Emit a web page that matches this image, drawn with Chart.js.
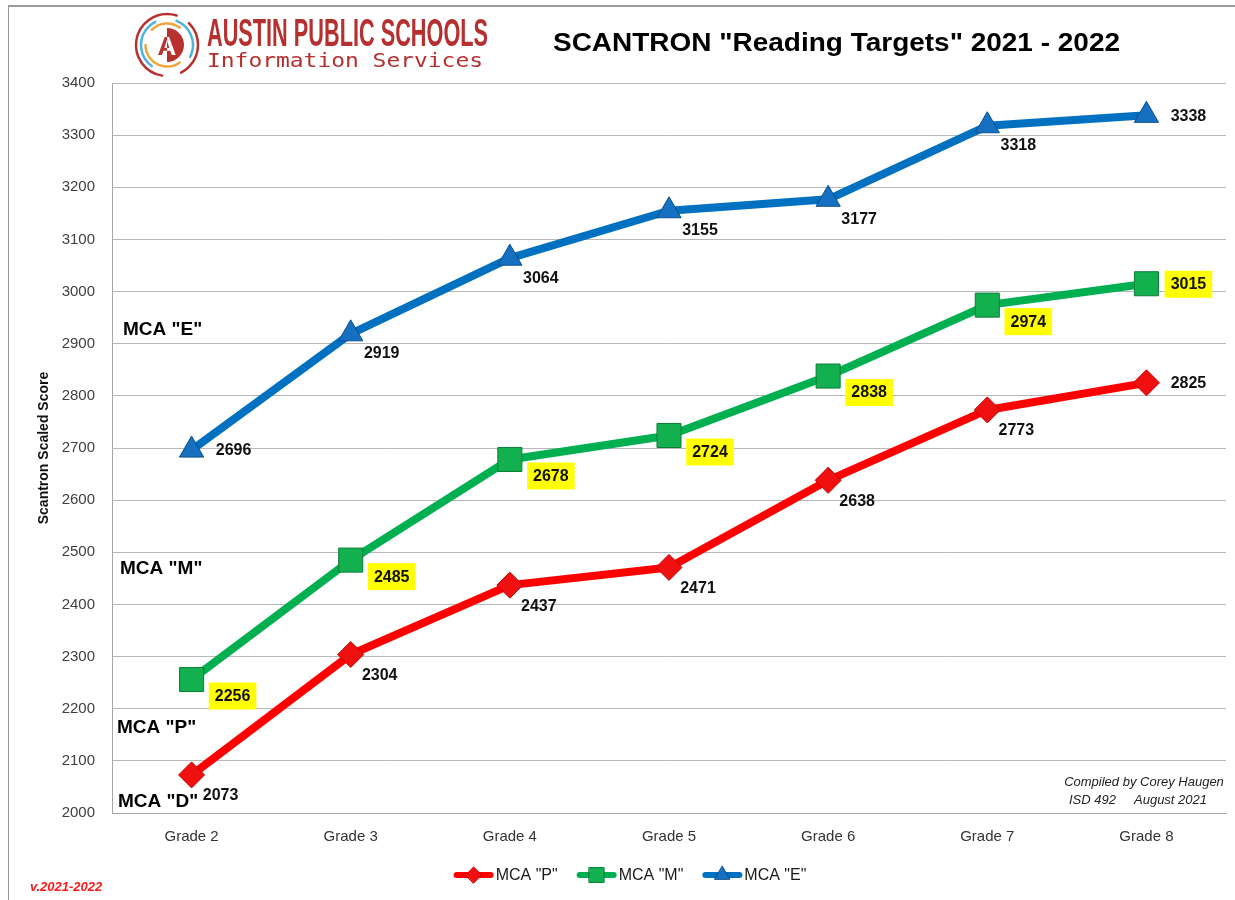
<!DOCTYPE html>
<html><head><meta charset="utf-8">
<script src="https://cdn.jsdelivr.net/npm/chart.js@4.4.1/dist/chart.umd.min.js"></script>
<style>
html,body{margin:0;padding:0;background:#fff;}
#wrap{position:relative;width:1235px;height:900px;overflow:hidden;}
canvas{display:block;}
</style></head><body>
<div id="wrap"><canvas id="c" width="1235" height="900"></canvas></div>
<script>
// ---- data ----
const categories = ['Grade 2','Grade 3','Grade 4','Grade 5','Grade 6','Grade 7','Grade 8'];
const mcaP = [2073, 2304, 2437, 2471, 2638, 2773, 2825];
const mcaM = [2256, 2485, 2678, 2724, 2838, 2974, 3015];
const mcaE = [2696, 2919, 3064, 3155, 3177, 3318, 3338];
const seriesNames = ['MCA "P"', 'MCA "M"', 'MCA "E"'];
const yMin = 2000, yMax = 3400, yStep = 100;
const levelLabels = ['MCA "E"', 'MCA "M"', 'MCA "P"', 'MCA "D"'];
const titleText = 'SCANTRON "Reading Targets" 2021 - 2022';
const yAxisTitle = 'Scantron Scaled Score';
const creditLines = ['Compiled by Corey Haugen', 'ISD 492     August 2021'];
const versionText = 'v.2021-2022';
const orgName = 'AUSTIN PUBLIC SCHOOLS';
const orgDept = 'Information Services';

const FONT = '"Liberation Sans", Arial, sans-serif';

function fitText(ctx, text, x, y, width, font, color, align) {
  ctx.save();
  ctx.font = font;
  ctx.fillStyle = color;
  ctx.textBaseline = 'alphabetic';
  ctx.textAlign = 'left';
  const w = ctx.measureText(text).width;
  const sx = width / w;
  let left = x;
  if (align === 'center') left = x - width / 2;
  ctx.translate(left, y);
  ctx.scale(sx, 1);
  ctx.fillText(text, 0, 0);
  ctx.restore();
}

function drawMarker(ctx, style, x, y, r, fill, stroke) {
  ctx.save();
  ctx.fillStyle = fill; ctx.strokeStyle = stroke; ctx.lineWidth = 1;
  ctx.beginPath();
  if (style === 'triangle') {
    ctx.moveTo(x, y - r);
    ctx.lineTo(x + r * Math.sin(Math.PI / 3), y + r / 2);
    ctx.lineTo(x - r * Math.sin(Math.PI / 3), y + r / 2);
    ctx.closePath();
  } else if (style === 'rect') {
    const s = r * Math.SQRT1_2;
    ctx.rect(x - s, y - s, 2 * s, 2 * s);
  } else {
    ctx.moveTo(x - r, y); ctx.lineTo(x, y - r); ctx.lineTo(x + r, y); ctx.lineTo(x, y + r); ctx.closePath();
  }
  ctx.fill(); ctx.stroke();
  ctx.restore();
}

const decorPlugin = {
  id: 'decor',
  beforeDraw(chart) {
    const ctx = chart.ctx;
    ctx.save();
    ctx.fillStyle = '#fff';
    ctx.fillRect(0, 0, chart.width, chart.height);
    ctx.strokeStyle = '#9a9a9a';
    ctx.lineWidth = 2;
    ctx.beginPath(); ctx.moveTo(8, 6); ctx.lineTo(1235, 6); ctx.stroke();
    ctx.lineWidth = 1;
    ctx.beginPath(); ctx.moveTo(8.5, 6); ctx.lineTo(8.5, 900); ctx.stroke();
    ctx.restore();
  },
  afterDraw(chart) {
    const ctx = chart.ctx;
    // ---- logo ----
    ctx.save();
    const cx = 167, cy = 45;
    ctx.lineCap = 'round';
    ctx.strokeStyle = '#b8312f'; ctx.lineWidth = 2.5;
    ctx.beginPath(); ctx.arc(cx, cy, 31, Math.PI * 0.55, Math.PI * 1.6); ctx.stroke();
    ctx.beginPath(); ctx.arc(cx, cy, 31, Math.PI * 1.75, Math.PI * 0.35); ctx.stroke();
    ctx.strokeStyle = '#4fb3e0'; ctx.lineWidth = 2.5;
    ctx.beginPath(); ctx.arc(cx, cy, 26, Math.PI * 1.62, Math.PI * 0.15); ctx.stroke();
    ctx.beginPath(); ctx.arc(cx, cy, 26, Math.PI * 0.7, Math.PI * 1.35); ctx.stroke();
    ctx.strokeStyle = '#f0a43a'; ctx.lineWidth = 2.5;
    ctx.beginPath(); ctx.arc(cx, cy, 21.5, Math.PI * 0.3, Math.PI * 1.0); ctx.stroke();
    ctx.beginPath(); ctx.arc(cx, cy, 21.5, Math.PI * 1.25, Math.PI * 1.7); ctx.stroke();
    ctx.fillStyle = '#b8312f';
    ctx.beginPath(); ctx.arc(cx, cy, 17, -Math.PI * 0.5, Math.PI * 0.5); ctx.closePath(); ctx.fill();
    ctx.font = 'bold 26px ' + FONT;
    ctx.textAlign = 'center'; ctx.textBaseline = 'alphabetic';
    ctx.fillStyle = '#ffffff';
    ctx.fillText('A', cx, cy + 10);
    ctx.fillStyle = '#b8312f';
    ctx.save(); ctx.beginPath(); ctx.rect(cx - 20, cy - 20, 20, 40); ctx.clip();
    ctx.fillText('A', cx, cy + 10); ctx.restore();
    ctx.restore();
    fitText(ctx, orgName, 207, 46, 281, 'bold 38px ' + FONT, '#b5302f');
    fitText(ctx, orgDept, 207, 67, 276, '20px "DejaVu Sans Mono", "Liberation Mono", monospace', '#b5302f');

    // ---- title ----
    fitText(ctx, titleText, 553, 51, 567, 'bold 25px ' + FONT, '#000');

    // ---- level labels at left ----
    ctx.save();
    ctx.font = 'bold 19px ' + FONT;
    ctx.fillStyle = '#000';
    ctx.textBaseline = 'middle'; ctx.textAlign = 'left';
    const lvlPos = [[123, 330], [120, 569], [117, 728], [118, 802]];
    levelLabels.forEach((t, i) => ctx.fillText(t, lvlPos[i][0], lvlPos[i][1]));
    ctx.restore();

    // ---- credit ----
    ctx.save();
    ctx.font = 'italic 13px ' + FONT;
    ctx.fillStyle = '#222';
    ctx.textAlign = 'center'; ctx.textBaseline = 'middle';
    ctx.fillText(creditLines[0], 1144, 782);
    ctx.fillText(creditLines[1], 1138, 800);
    ctx.font = 'bold italic 13px ' + FONT;
    ctx.fillStyle = '#ff1a1a';
    ctx.textAlign = 'left';
    ctx.fillText(versionText, 30, 887);
    ctx.restore();

    // ---- legend ----
    ctx.save();
    ctx.font = '16px ' + FONT;
    ctx.textBaseline = 'middle'; ctx.textAlign = 'left';
    const ly = 875;
    const lineLen = 40, gapText = 2, gapItem = 19;
    const order = [0, 1, 2];
    const widths = order.map(i => lineLen + gapText + ctx.measureText(chart.data.datasets[i].label).width);
    const total = widths.reduce((a, b) => a + b, 0) + gapItem * (order.length - 1);
    let lx = 630 - total / 2;
    order.forEach((i, k) => {
      const ds = chart.data.datasets[i];
      ctx.strokeStyle = ds.borderColor; ctx.lineWidth = 6; ctx.lineCap = 'round';
      ctx.beginPath(); ctx.moveTo(lx + 3, ly); ctx.lineTo(lx + lineLen - 3, ly); ctx.stroke();
      drawMarker(ctx, ds.pointStyle, lx + lineLen / 2, ly, ds.pointRadius * 0.62, ds.pointBackgroundColor, ds.pointBorderColor);
      ctx.fillStyle = '#1a1a1a';
      ctx.fillText(ds.label, lx + lineLen + gapText, ly + 1);
      lx += widths[k] + gapItem;
    });
    ctx.restore();
  }
};

const labelPlugin = {
  id: 'valueLabels',
  afterDatasetsDraw(chart) {
    const ctx = chart.ctx;
    ctx.save();
    ctx.font = 'bold 16px ' + FONT;
    ctx.textAlign = 'center'; ctx.textBaseline = 'middle';
    chart.data.datasets.forEach((ds, di) => {
      const meta = chart.getDatasetMeta(di);
      const off = ds.labelOffset;
      meta.data.forEach((pt, j) => {
        const v = ds.data[j];
        let dx = off[0], dy = off[1];
        const last = j === meta.data.length - 1;
        if (last || (ds.labelFirstRight && j === 0)) { dx = 42; dy = 0; }
        const x = pt.x + dx, y = pt.y + dy;
        const txt = String(v);
        if (ds.labelBox) {
          const w = ctx.measureText(txt).width + 12;
          ctx.fillStyle = ds.labelBox;
          ctx.fillRect(x - w / 2, y - 13, w, 27);
        }
        ctx.fillStyle = '#111';
        ctx.fillText(txt, x, y + 1);
      });
    });
    ctx.restore();
  }
};

new Chart(document.getElementById('c'), {
  type: 'line',
  data: {
    labels: categories,
    datasets: [
      {
        label: seriesNames[0], data: mcaP,
        borderColor: '#ff0000', backgroundColor: '#ff0000',
        pointStyle: 'rectRot', pointRadius: 13, pointHoverRadius: 13,
        pointBackgroundColor: '#f01010', pointBorderColor: '#c00000', pointBorderWidth: 1,
        borderWidth: 8, tension: 0, borderJoinStyle: 'round',
        labelOffset: [29, 20], labelBox: null, order: 3
      },
      {
        label: seriesNames[1], data: mcaM,
        borderColor: '#00b050', backgroundColor: '#00b050',
        pointStyle: 'rect', pointRadius: 17, pointHoverRadius: 17,
        pointBackgroundColor: '#12b04e', pointBorderColor: '#0a7d36', pointBorderWidth: 1,
        borderWidth: 8, tension: 0, borderJoinStyle: 'round',
        labelOffset: [41, 16], labelBox: '#ffff00', order: 2
      },
      {
        label: seriesNames[2], data: mcaE,
        borderColor: '#0070c0', backgroundColor: '#0070c0',
        pointStyle: 'triangle', pointRadius: 14, pointHoverRadius: 14,
        pointBackgroundColor: '#1570c2', pointBorderColor: '#0a4f8c', pointBorderWidth: 1,
        borderWidth: 8, tension: 0, borderJoinStyle: 'round',
        labelOffset: [31, 19], labelBox: null, labelFirstRight: true, order: 1
      }
    ]
  },
  options: {
    responsive: false,
    animation: false,
    devicePixelRatio: 1,
    events: [],
    layout: { autoPadding: false, padding: { left: 8, top: 83, right: 9, bottom: 57 } },
    plugins: { legend: { display: false }, title: { display: false }, tooltip: { enabled: false } },
    scales: {
      x: {
        type: 'category',
        offset: true,
        grid: { display: false, drawTicks: false },
        border: { display: true, color: '#a6a6a6', width: 1 },
        ticks: { color: '#333', font: { family: FONT, size: 15 }, padding: 15, maxRotation: 0 },
        afterFit(scale) { scale.height = 30; scale.paddingLeft = 0; scale.paddingRight = 0; }
      },
      y: {
        min: yMin, max: yMax,
        grid: { color: '#b8b8b8', lineWidth: 1, drawTicks: false },
        border: { display: true, color: '#a6a6a6', width: 1 },
        ticks: { stepSize: yStep, color: '#404040', font: { family: FONT, size: 15 }, padding: 17,
                 callback: (v) => String(v) },
        title: { display: true, text: yAxisTitle, color: '#111', font: { family: FONT, size: 14, weight: 'bold' }, padding: { top: 28, bottom: 0 } },
        afterFit(scale) { scale.width = 104; }
      }
    }
  },
  plugins: [decorPlugin, labelPlugin]
});
</script>
</body></html>
